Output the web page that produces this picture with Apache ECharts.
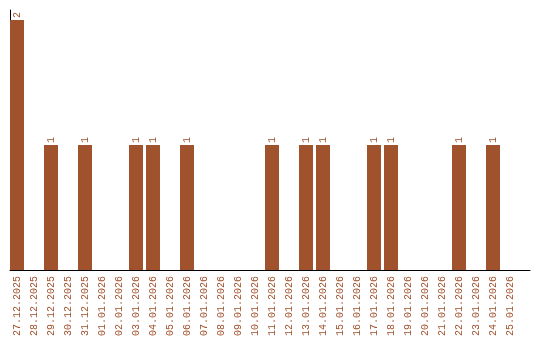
<!DOCTYPE html>
<html>
<head>
<meta charset="utf-8">
<script src="https://cdn.jsdelivr.net/npm/echarts@6/dist/echarts.min.js"></script>
<style>html,body{margin:0;padding:0;background:#fff}#c{width:540px;height:340px}</style>
</head>
<body>
<div id="c"></div>
<script>
const categories = ["27.12.2025","28.12.2025","29.12.2025","30.12.2025","31.12.2025","01.01.2026","02.01.2026","03.01.2026","04.01.2026","05.01.2026","06.01.2026","07.01.2026","08.01.2026","09.01.2026","10.01.2026","11.01.2026","12.01.2026","13.01.2026","14.01.2026","15.01.2026","16.01.2026","17.01.2026","18.01.2026","19.01.2026","20.01.2026","21.01.2026","22.01.2026","23.01.2026","24.01.2026","25.01.2026"];
const counts = [2,0,1,0,1,0,0,1,1,0,1,0,0,0,0,1,0,1,1,0,0,1,1,0,0,0,1,0,1,0];

const color = '#a0522d';
const font = 'Liberation Mono';
const chart = echarts.init(document.getElementById('c'));
chart.setOption({
  animation: false,
  grid: [
    {left: 8.5, right: 21.5, top: 20, bottom: 70},
    {left: 10, right: 10, top: 10, bottom: 70}
  ],
  xAxis: [
    {type: 'category', gridIndex: 0, data: categories,
     axisLine: {show: false}, axisTick: {show: false},
     axisLabel: {rotate: 90, interval: 0, color: color, fontFamily: font, fontSize: 10, margin: 6}},
    {type: 'category', gridIndex: 1, data: [],
     axisLine: {show: true, lineStyle: {color: '#000', width: 1}}, axisTick: {show: false}, axisLabel: {show: false}}
  ],
  yAxis: [
    {type: 'value', gridIndex: 0, min: 0, max: 2, show: false, splitLine: {show: false}},
    {type: 'value', gridIndex: 1, min: 0, max: 1,
     axisLine: {show: true, lineStyle: {color: '#000', width: 1}}, axisTick: {show: false},
     axisLabel: {show: false}, splitLine: {show: false}}
  ],
  series: [{
    type: 'bar', xAxisIndex: 0, yAxisIndex: 0, data: counts, barWidth: 14,
    itemStyle: {color: color},
    label: {show: true, position: 'top', rotate: 90, align: 'left', verticalAlign: 'middle', distance: 2,
      color: color, textBorderWidth: 0, fontFamily: font, fontSize: 10,
      formatter: p => p.value > 0 ? '{v|' + p.value + '}' : '',
      rich: {v: {color: color, fontFamily: font, fontSize: 10}}}
  }]
});
</script>
</body>
</html>
